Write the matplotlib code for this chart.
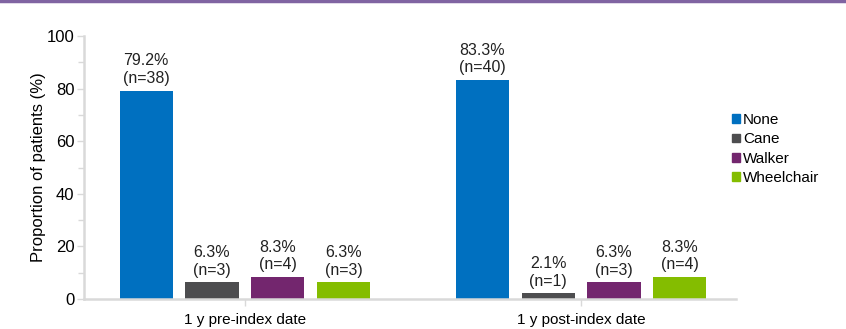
import numpy as np
from matplotlib import pyplot as plt, patches as mpatches, lines as mlines

periods = ['1 y pre-index date', '1 y post-index date']
aids = ['None', 'Cane', 'Walker', 'Wheelchair']
pct = {
    'None': [79.2, 83.3],
    'Cane': [6.3, 2.1],
    'Walker': [8.3, 6.3],
    'Wheelchair': [6.3, 8.3],
}
counts = {
    'None': [38, 40],
    'Cane': [3, 1],
    'Walker': [4, 3],
    'Wheelchair': [3, 4],
}
colors = ['#0070c0', '#4d4d4f', '#73266e', '#84bd00']

plt.rcParams['font.family'] = ['Liberation Sans', 'DejaVu Sans']

fig = plt.figure(figsize=(8.46, 3.29), dpi=100)
ax = fig.add_axes([84 / 846, 30 / 329, (736 - 84) / 846, 263 / 329])

# purple rule across the top
fig.add_artist(mlines.Line2D([0, 1], [0.997, 0.997], color='#8064a2', lw=2.5,
                             transform=fig.transFigure))

x = np.arange(len(periods))
width = 0.158
step = 0.196
for i, (aid, c) in enumerate(zip(aids, colors)):
    xs = x + (i - 1.5) * step
    ax.bar(xs, pct[aid], width=width, color=c, label=aid, zorder=2)
    for xi, v, n in zip(xs, pct[aid], counts[aid]):
        ax.annotate(f'{v}%\n(n={n})', (xi, v), xytext=(0, 3.5), textcoords='offset points',
                    ha='center', va='bottom', fontsize=11.5, linespacing=1.2,
                    color='#222222')

ax.set_xlim(-0.479, 1.461)
ax.set_ylim(0, 100)
ax.set_yticks(range(0, 101, 20))
ax.set_yticks(range(10, 100, 20), minor=True)
ax.set_xticks(x)
ax.set_xticklabels(periods, fontsize=11)
ax.tick_params(axis='y', labelsize=12, length=5, width=1, color='#d9d9d9', pad=2)
ax.tick_params(axis='y', which='minor', length=4, width=1, color='#d9d9d9')
ax.tick_params(axis='x', length=5, width=1, color='#d9d9d9', pad=5, direction='out')
for s in ['top', 'right']:
    ax.spines[s].set_visible(False)
for s in ['left', 'bottom']:
    ax.spines[s].set_color('#d9d9d9')
    ax.spines[s].set_linewidth(1.8)
ax.set_ylabel('Proportion of patients (%)', fontsize=12, labelpad=0.5)

handles = [mpatches.Patch(color=c, label=a) for a, c in zip(aids, colors)]
ax.legend(handles=handles, loc='center left', bbox_to_anchor=(0.985, 0.57), frameon=False,
          fontsize=11, handlelength=0.5, handleheight=0.5, handletextpad=0.2,
          labelspacing=0.35, borderaxespad=0)

plt.savefig('out.png', dpi=100)
